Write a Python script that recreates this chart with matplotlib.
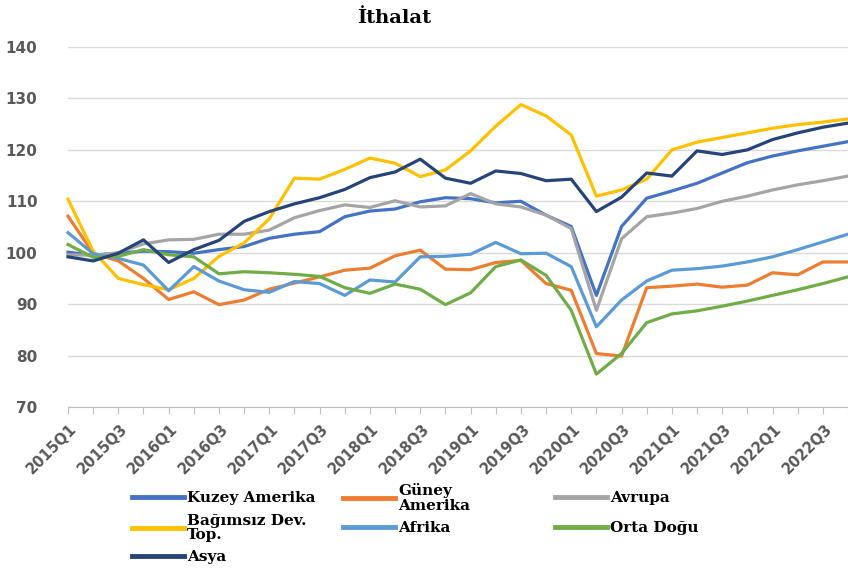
import matplotlib.pyplot as plt
import matplotlib.transforms as mtransforms

quarters = [f"{y}Q{q}" for y in range(2015, 2023) for q in range(1, 5)]
yticks = [70, 80, 90, 100, 110, 120, 130, 140]

kuzey = [100.1, 99.5, 99.9, 100.3, 100.2, 99.9, 100.6, 101.2, 102.8, 103.6, 104.1, 107.0,
         108.1, 108.5, 109.9, 110.7, 110.5, 109.7, 110.0, 107.3, 105.1, 91.7, 105.1, 110.6,
         112.0, 113.5, 115.5, 117.5, 118.8, 119.8, 120.7, 121.6]
guney = [107.1, 99.9, 98.4, 95.0, 90.9, 92.4, 89.9, 90.8, 92.9, 94.1, 95.3, 96.6,
         97.0, 99.4, 100.5, 96.8, 96.7, 98.1, 98.5, 94.0, 92.7, 80.4, 79.9, 93.2,
         93.5, 93.9, 93.3, 93.7, 96.1, 95.7, 98.2, 98.2]
avrupa = [99.6, 99.5, 100.0, 101.7, 102.5, 102.6, 103.6, 103.6, 104.4, 106.8, 108.2, 109.3,
          108.8, 110.1, 108.9, 109.1, 111.5, 109.5, 108.9, 107.3, 104.7, 88.8, 102.7, 107.0,
          107.7, 108.6, 110.0, 111.0, 112.2, 113.2, 114.0, 114.9]
bagimsiz = [110.4, 100.3, 95.0, 93.8, 92.8, 95.0, 99.3, 101.9, 106.6, 114.5, 114.3, 116.2,
            118.4, 117.4, 114.8, 116.1, 119.8, 124.6, 128.8, 126.6, 122.9, 111.0, 112.2, 114.3,
            120.0, 121.5, 122.4, 123.3, 124.2, 124.9, 125.4, 126.0]
afrika = [103.9, 99.8, 98.9, 97.6, 92.6, 97.3, 94.5, 92.8, 92.3, 94.4, 94.0, 91.7,
          94.7, 94.3, 99.2, 99.3, 99.7, 102.0, 99.8, 99.9, 97.3, 85.6, 90.8, 94.5,
          96.6, 96.9, 97.4, 98.2, 99.2, 100.6, 102.1, 103.6]
orta_dogu = [101.6, 99.1, 99.3, 100.6, 99.6, 99.2, 95.9, 96.3, 96.1, 95.8, 95.4, 93.2,
             92.1, 93.9, 92.9, 89.9, 92.2, 97.3, 98.6, 95.6, 88.8, 76.4, 80.4, 86.4,
             88.1, 88.7, 89.6, 90.6, 91.7, 92.8, 94.0, 95.3]
asya = [99.2, 98.4, 99.9, 102.5, 98.1, 100.6, 102.4, 106.1, 108.0, 109.5, 110.7, 112.3,
        114.6, 115.7, 118.2, 114.5, 113.5, 115.9, 115.4, 114.0, 114.3, 108.0, 110.8, 115.5,
        114.9, 119.8, 119.1, 120.0, 122.0, 123.3, 124.4, 125.2]

labels = ["Kuzey Amerika", "Güney\nAmerika", "Avrupa", "Bağımsız Dev.\nTop.",
          "Afrika", "Orta Doğu", "Asya"]
values = [kuzey, guney, avrupa, bagimsiz, afrika, orta_dogu, asya]
colors = ["#4472C4", "#ED7D31", "#A5A5A5", "#FFC000", "#5B9BD5", "#70AD47", "#264478"]

W, H = 848, 574
fig = plt.figure(figsize=(W / 100, H / 100), dpi=100)
ax = fig.add_axes([68 / W, 1 - 407 / H, 1 - 68 / W, (407 - 47) / H])

x = list(range(len(quarters)))
lines = []
for lab, vals, col in zip(labels, values, colors):
    ln, = ax.plot(x, vals, color=col, lw=2.3, clip_on=False, solid_joinstyle="round")
    lines.append(ln)

ax.set_xlim(0, len(quarters) - 1)
ax.set_ylim(70, 140)
ax.set_yticks(yticks)
ax.set_yticklabels([str(v) for v in yticks], fontsize=11, fontweight="bold", color="#595959")
ax.grid(axis="y", color="#D9D9D9", lw=1)
ax.set_axisbelow(True)
for s in ["top", "right", "left"]:
    ax.spines[s].set_visible(False)
ax.spines["bottom"].set_color("#BFBFBF")
ax.spines["bottom"].set_zorder(0.5)

ax.set_xticks(x)
ax.set_xticklabels([q if i % 2 == 0 else "" for i, q in enumerate(quarters)],
                   rotation=45, ha="right", va="top", rotation_mode="anchor",
                   fontsize=10.5, fontweight="bold", color="#595959")
ax.tick_params(axis="x", direction="out", length=5, color="#BFBFBF", pad=5)
ax.tick_params(axis="y", length=0, pad=22)
offset = mtransforms.ScaledTranslation(1 / 72, 0, fig.dpi_scale_trans)
for t in ax.get_xticklabels():
    t.set_transform(t.get_transform() + offset)

fig.text(394 / W, 1 - 18 / H, "İthalat", ha="center", va="center",
         fontsize=14, fontweight="bold", family="DejaVu Serif")

# legend laid out in Excel style: 3 columns, row by row
col_x = [132, 343, 555]
row_y = [498, 528, 557]
for i, (ln, lab) in enumerate(zip(lines, labels)):
    r, c = divmod(i, 3)
    leg = fig.legend([ln], [lab], loc="center left",
                     bbox_to_anchor=(col_x[c] / W, 1 - row_y[r] / H),
                     frameon=False, borderpad=0, borderaxespad=0,
                     handlelength=3.4, handletextpad=0.2,
                     prop={"family": "DejaVu Serif", "weight": "bold", "size": 11})
    leg.get_lines()[0].set_linewidth(3.5)
    for t in leg.get_texts():
        t.set_linespacing(1.05)

fig.savefig("out.png", dpi=100)
